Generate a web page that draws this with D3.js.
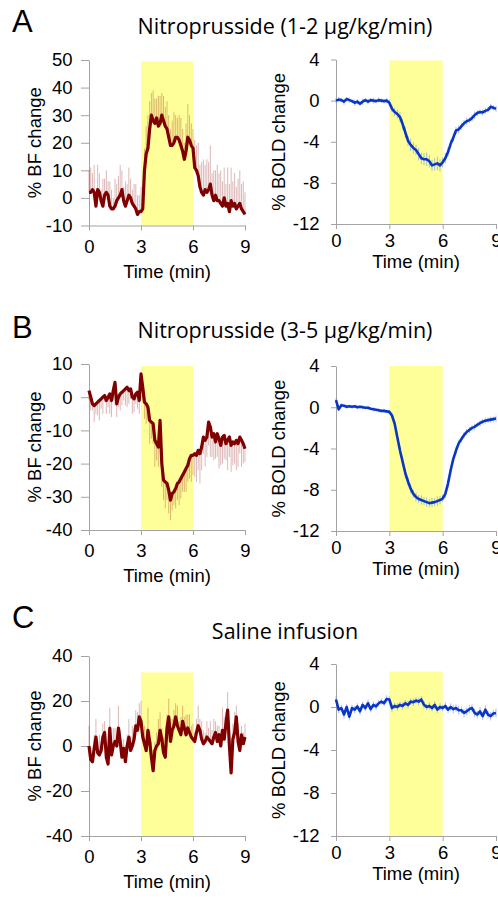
<!DOCTYPE html>
<html>
<head>
<meta charset="utf-8">
<script src="https://cdn.jsdelivr.net/npm/d3@7"></script>
<style>
body { margin: 0; background: #fff; }
.axis text { font-family: 'Liberation Sans', Arial, sans-serif; font-size: 18.5px; fill: #000; }
.axis path, .axis line { stroke: #a3a3a3; stroke-width: 1; }
.label { font-family: 'Liberation Sans', Arial, sans-serif; font-size: 18.5px; fill: #000; }
.title { font-family: 'Open Sans', sans-serif; font-size: 21.5px; fill: #000; }
.letter { font-family: 'Liberation Sans', Arial, sans-serif; font-size: 31px; fill: #000; }
</style>
</head>
<body>
<svg id="fig" width="498" height="899"></svg>
<script>
// x axis (minutes) and the infusion window
const timeTicks = [0, 3, 6, 9]
const infusion = [3, 6]

const titles = ['Nitroprusside (1-2 \u00b5g/kg/min)', 'Nitroprusside (3-5 \u00b5g/kg/min)', 'Saline infusion']
const letters = ['A', 'B', 'C']

const bfTicksA = [-10, 0, 10, 20, 30, 40, 50]
const bfTicksB = [-40, -30, -20, -10, 0, 10]
const bfTicksC = [-40, -20, 0, 20, 40]
const boldTicks = [-12, -8, -4, 0, 4]

// % BF change, one value every 0.1 min (0..9)
const bfA = [2,2,3,2,-3,3,2,-1,-3,1, 2,1,-3,-4,-4,-3,-1,0,1,3, -1,-3,-1,1,0,-2,-3,-4,-6,-5,
    -5,-4,10,16,18,25,30,28,27,29, 26,27,30,28,26,25,22,19,19,20, 22,22,21,19,17,14,17,22,21,19,
    18,11,10,8,4,2,1,3,2,3, 5,1,-1,1,-1,-1,-2,-3,0,-3, -2,-5,-1,-3,-2,-4,-3,-2,-4,-5, -6]
const bfErrA = [8,9,6,10,5,9,7,4,10,6, 8,5,9,7,4,10,6,8,11,7, 5,9,6,10,7,5,8,9,7,6, 9,
    6,8,10,12,10,8,11,9,7,11, 10,8,9,7,10,8,6,9,11,8, 7,9,10,8,6,10,12,9,8,7,
    10,9,12,8,11,13,9,12,10,14, 8,11,9,13,10,12,9,11,8,13, 10,12,9,11,8,10,12,9,11,8]

const bfB = [2,0,-2,-2.5,-2,-1.5,-1,-0.5,0,0.5, -1,0,1,-1,2,4.5,-2,0,1,1.5, 2,2.5,3,2,2.5,0,-0.5,1,1.5,-1,
    7,3,-1.5,-2,-3,-7,-7.5,-8,-13,-14, -15,-7,-20,-25,-25.5,-26,-28,-31,-29,-28.5,
    -27.5,-26,-25.5,-24.5,-23.5,-22.5,-21.5,-20.5,-18.5,-17.5, -17.5,-17,-17.5,-16,-17,-15,-12,-13,-12,-7.5,
    -9,-12,-11,-13.5,-11,-12.5,-14.5,-12,-11.5,-14, -13,-12,-14.5,-13.5,-14,-13,-14,-12,-13,-14, -15.5]
const bfErrB = [3,4,2,5,3,4,6,3,5,2, 4,3,6,5,3,7,4,3,5,4, 3,5,6,4,3,5,4,3,5,4, 3,
    4,5,6,4,7,5,6,8,5,6, 4,7,6,8,5,7,6,5,4,6, 5,7,6,5,6,7,5,6,8,6,
    7,8,6,9,7,5,8,6,7,9, 6,8,5,7,9,6,8,7,5,9, 6,8,7,6,9,7,5,8,6,4]

const bfC = [0,-6,-7,-1,4,-3,-4,-2,4,6, -5,-8,8,-4,0,2,0,8,2,-5, -1,-7,0,4,-2,0,3,9,7,13,
    11,4,1,-2,7,2,-5,-11,-2,0, 1,7,3,-3,-5,8,13,2,7,9, 13,9,7,5,11,8,5,8,6,4,
    3,2,6,9,7,3,1,2,4,3, 2,1,4,6,2,5,0,7,3,10, 16,0,-12,3,6,13,2,-2,5,1, 4]
const bfErrC = [9,5,4,6,8,5,9,3,6,5, 7,4,9,5,8,6,4,10,5,6, 4,7,5,8,6,9,5,7,8,6,
    9,3,8,6,10,5,7,9,4,6, 11,8,5,7,9,6,8,10,5,7, 6,9,4,8,7,5,9,6,8,5,
    7,4,6,9,5,8,6,4,7,5, 9,6,8,5,7,4,6,10,10,5, 8,6,4,7,9,5,8,6,4,5, 6]

// % BOLD change, one value every 0.15 min (0..9)
const boldA = [0,0.1,0.05,-0.1,0.15,0.05,-0.05,-0.2,-0.1,-0.3, -0.1,0.05,-0.1,0.05,0,-0.05,0.05,0,-0.05,0,
    -0.2,-0.8,-1.1,-1.3,-1.6,-2.3,-3.1,-3.9,-4.3,-4.6, -4.8,-5.2,-5.6,-5.7,-5.7,-5.9,-6.3,-6.2,-6.1,-6.3, -6.0,
    -5.6,-5.0,-4.2,-3.6,-2.9,-2.8,-2.5,-2.2,-2.0,-1.9, -1.7,-1.4,-1.2,-1.1,-1.15,-1.0,-0.9,-0.6,-0.7,-0.8]
const boldErrA = [0.2,0.25,0.2,0.3,0.2,0.25,0.2,0.3,0.25,0.2, 0.3,0.2,0.25,0.2,0.3,0.2,0.25,0.2,0.2,0.25,
    0.3,0.35,0.4,0.45,0.5,0.5,0.55,0.5,0.6,0.55, 0.5,0.6,0.55,0.6,0.65,0.6,0.55,0.6,0.65,0.6, 0.5,
    0.5,0.45,0.4,0.4,0.35,0.4,0.35,0.3,0.35,0.3, 0.3,0.35,0.3,0.25,0.3,0.3,0.25,0.3,0.25,0.3]

const boldB = [0.7,-0.2,0.2,0.15,0.05,0.1,0.05,0.1,0,0.05, 0,-0.05,-0.05,-0.15,-0.2,-0.25,-0.3,-0.35,-0.35,-0.4,
    -0.45,-0.8,-1.6,-2.9,-4.2,-5.3,-6.4,-7.2,-7.9,-8.4, -8.7,-8.9,-9.0,-9.1,-9.2,-9.3,-9.25,-9.2,-9.1,-9.0, -8.85,
    -8.4,-7.4,-6.1,-5.0,-4.2,-3.5,-3.1,-2.7,-2.4,-2.2, -2.0,-1.9,-1.7,-1.55,-1.4,-1.3,-1.25,-1.2,-1.15,-1.1]
const boldErrB = [0.2,0.15,0.2,0.15,0.2,0.15,0.2,0.15,0.2,0.15, 0.2,0.15,0.2,0.15,0.2,0.15,0.2,0.15,0.2,0.15,
    0.2,0.25,0.3,0.35,0.4,0.4,0.45,0.4,0.45,0.4, 0.45,0.4,0.45,0.4,0.45,0.4,0.45,0.4,0.45,0.4, 0.35,
    0.4,0.4,0.4,0.35,0.35,0.3,0.3,0.3,0.3,0.3, 0.25,0.3,0.25,0.3,0.25,0.3,0.25,0.3,0.25,0.3]

const boldC = [0.7,-0.25,-0.1,-0.7,0,-0.9,-0.1,-0.25,0.05,-0.4, 0.2,-0.1,0.35,-0.2,0.2,0.05,0.35,0.5,0.35,0.75,
    0.7,-0.1,0.1,0,0.2,0.1,0.35,0.2,0.5,0.45, 0.6,0.5,0.7,0.2,0,0.1,-0.1,0.2,-0.25,0,
    -0.1,0.1,-0.25,0,-0.2,-0.1,-0.3,-0.3,-0.55,-0.4, -0.2,-0.1,-0.55,-0.7,-0.4,-0.85,-0.25,-0.7,-0.85,-0.6, -0.55]
const boldErrC = [0.3,0.35,0.3,0.4,0.3,0.35,0.3,0.35,0.3,0.35, 0.3,0.3,0.35,0.3,0.3,0.35,0.3,0.3,0.3,0.35,
    0.3,0.35,0.3,0.35,0.3,0.35,0.3,0.35,0.3,0.35, 0.3,0.35,0.3,0.35,0.3,0.35,0.3,0.35,0.3,0.35,
    0.3,0.35,0.3,0.35,0.4,0.35,0.4,0.35,0.4,0.35, 0.4,0.35,0.4,0.35,0.4,0.35,0.4,0.35,0.4,0.35, 0.4]

let svg = d3.select('#fig')

function trace_panel(values, errors, p)
{
    let n = values.length
    let time = values.map((d, i) => i * 9 / (n - 1))
    let xScale = d3.scaleLinear().domain([0, 9]).range([p.x0, p.x1])
    let yScale = d3.scaleLinear().domain(p.domain).range([p.yBottom, p.yTop])
    let g = svg.append('g')

    // infusion period
    g.append('rect')
        .attr('x', xScale(infusion[0]))
        .attr('width', xScale(infusion[1]) - xScale(infusion[0]))
        .attr('y', yScale(p.bandTop))
        .attr('height', yScale(p.domain[0]) - yScale(p.bandTop))
        .attr('fill', '#ffff99')

    //axes (plain hyphen for negatives, like the original)
    g.append('g')
        .attr('class', 'axis')
        .attr('transform', `translate(0, ${p.yBottom})`)
        .call(d3.axisBottom(xScale).tickValues(timeTicks).tickFormat(d => String(d))
            .tickSize(5).tickSizeOuter(0).tickPadding(p.xPad))
    g.append('g')
        .attr('class', 'axis')
        .attr('transform', `translate(${p.x0}, 0)`)
        .call(d3.axisLeft(yScale).tickValues(p.ticks).tickFormat(d => String(d))
            .tickSize(p.tick).tickSizeOuter(0).tickPadding(16.5 - p.tick))

    //error bars
    g.selectAll('.err')
        .data(values)
        .enter()
        .append('line')
        .attr('x1', (d, i) => xScale(time[i]))
        .attr('x2', (d, i) => xScale(time[i]))
        .attr('y1', (d, i) => yScale(p.band ? d - errors[i] : d))
        .attr('y2', (d, i) => yScale(d + p.dir * errors[i]))
        .attr('stroke', p.errColor)
        .attr('stroke-opacity', p.errOpacity)
        .attr('stroke-width', 1)

    let line = d3.line()
        .x((d, i) => xScale(time[i]))
        .y(d => yScale(d))
    g.append('path')
        .datum(values)
        .attr('d', line)
        .attr('fill', 'none')
        .attr('stroke', p.color)
        .attr('stroke-width', p.width)
        .attr('stroke-linejoin', 'round')

    //labels
    g.append('text')
        .attr('class', 'label')
        .attr('x', (p.x0 + p.x1) / 2)
        .attr('y', p.yBottom + p.xLabelGap)
        .attr('text-anchor', 'middle')
        .text('Time (min)')
    g.append('text')
        .attr('class', 'label')
        .attr('transform', `translate(${p.yLabelX}, ${(p.yTop + p.yBottom) / 2}) rotate(270)`)
        .attr('text-anchor', 'middle')
        .text(p.yLabel)
}

let bfStyle = {x0: 89, x1: 245, tick: 8, xPad: 9, xLabelGap: 52, yLabelX: 41,
    yLabel: '% BF change', color: '#800000', width: 3.2, errColor: '#8b1010', errOpacity: 0.3}
let boldStyle = {x0: 336, x1: 496, tick: 5, xPad: 4.5, xLabelGap: 44, yLabelX: 285, band: true, dir: 1,
    yLabel: '% BOLD change', color: '#0a36c8', width: 2.6, errColor: '#6f93e0', errOpacity: 0.6}

trace_panel(bfA, bfErrA, {...bfStyle, yTop: 60, yBottom: 225.5, domain: [-10, 50], ticks: bfTicksA, bandTop: 49.5, dir: 1})
trace_panel(boldA, boldErrA, {...boldStyle, yTop: 59.5, yBottom: 224, domain: [-12, 4], ticks: boldTicks, bandTop: 3.9})
trace_panel(bfB, bfErrB, {...bfStyle, yTop: 364, yBottom: 530, domain: [-40, 10], ticks: bfTicksB, bandTop: 9.4, dir: -1})
trace_panel(boldB, boldErrB, {...boldStyle, yTop: 366, yBottom: 531, domain: [-12, 4], ticks: boldTicks, bandTop: 4})
trace_panel(bfC, bfErrC, {...bfStyle, yTop: 656, yBottom: 836, domain: [-40, 40], ticks: bfTicksC, bandTop: 32.7, dir: 1})
trace_panel(boldC, boldErrC, {...boldStyle, yTop: 664, yBottom: 836, domain: [-12, 4], ticks: boldTicks, bandTop: 3.3})

//panel letters and titles
let titleY = [34, 338, 639]
let letterY = [32, 338, 628]
titles.forEach((t, i) => {
    svg.append('text').attr('class', 'title')
        .attr('x', 285).attr('y', titleY[i])
        .attr('text-anchor', 'middle')
        .text(t)
    svg.append('text').attr('class', 'letter')
        .attr('x', 12).attr('y', letterY[i])
        .text(letters[i])
})
</script>
</body>
</html>
